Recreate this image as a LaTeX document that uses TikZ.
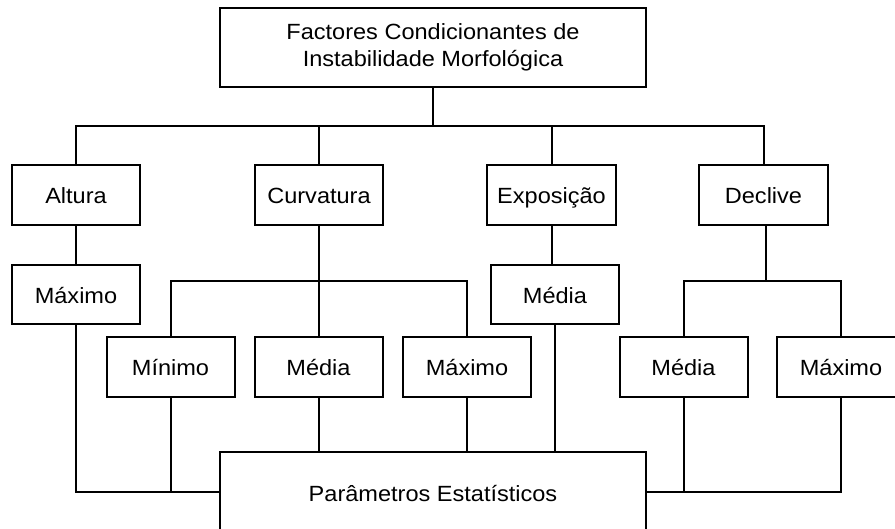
\documentclass[tikz,border=0pt]{standalone}
\usepackage{fontspec}
\setmainfont{Liberation Sans}[FakeStretch=1.07]
\usetikzlibrary{positioning}

\begin{document}
\begin{tikzpicture}[x=1pt,y=-1pt,
  box/.style={draw,line width=2pt,inner sep=0pt,minimum width=128pt,minimum height=60pt,
    font=\fontsize{22}{26.5}\selectfont,align=center},
  lbl/.style={box,text height=22pt,text depth=4pt},
  link/.style={line width=2pt}]
\useasboundingbox (0,0) rectangle (895,529);
% factores
\node[box,minimum width=426pt,minimum height=79pt] (top) at (433,47.5) {Factores Condicionantes de\\Instabilidade Morfológica};
\node[lbl] (altura) at (76,195) {Altura};
\node[lbl] (curvatura) at (319,195) {Curvatura};
\node[lbl,minimum width=129pt] (exposicao) at (551.5,195) {Exposição};
\node[lbl,minimum width=129pt] (declive) at (763.5,195) {Declive};
% parametros
\node[lbl,minimum height=59pt] (altmax) at (76,294.5) {Máximo};
\node[lbl,minimum height=59pt] (expmed) at (555,294.5) {Média};
\node[lbl] (curvmin) at (170.5,367) {Mínimo};
\node[lbl] (curvmed) at (318.5,367) {Média};
\node[lbl] (curvmax) at (467,367) {Máximo};
\node[lbl] (declmed) at (683.5,367) {Média};
\node[lbl] (declmax) at (841,367) {Máximo};
\node[lbl,minimum width=426pt,minimum height=80pt] (params) at (433,492) {Parâmetros Estatísticos};
% barras
\coordinate (bus) at (433,126);
\coordinate (cbus) at (319,281);
\coordinate (dbus) at (766,281);
\draw[link] (top) -- (bus);
\foreach \n in {altura,curvatura,exposicao,declive}
  \draw[link] (\n.north) |- (bus);
\draw[link] (altura) -- (altmax);
\draw[link] (exposicao.south) -- (exposicao.south |- expmed.north);
\draw[link] (curvatura.south) -- (cbus);
\foreach \n in {curvmin,curvmed,curvmax}
  \draw[link] (\n.north) |- (cbus);
\draw[link] (declive.south -| dbus) -- (dbus);
\foreach \n in {declmed,declmax}
  \draw[link] (\n.north) |- (dbus);
% ligacoes aos parametros
\foreach \n in {altmax,curvmin}
  \draw[link] (\n.south) |- (params.west);
\foreach \n in {curvmed,curvmax,expmed}
  \draw[link] (\n.south) -- (\n.south |- params.north);
\foreach \n in {declmed,declmax}
  \draw[link] (\n.south) |- (params.east);
\end{tikzpicture}
\end{document}
